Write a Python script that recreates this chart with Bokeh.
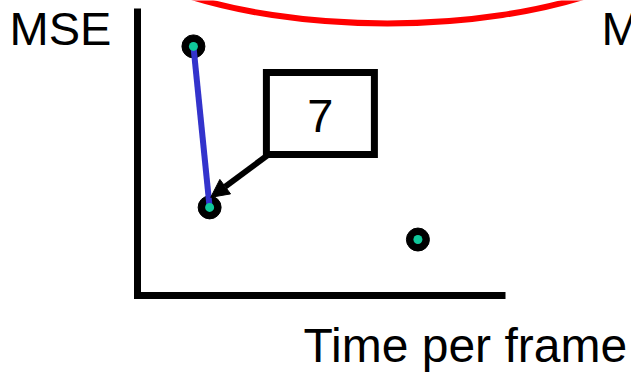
from bokeh.plotting import figure
from bokeh.models import Range1d, Arrow, NormalHead
from bokeh.core.properties import value
from bokeh.embed import file_html
from bokeh.resources import INLINE

# ---- data (arbitrary units: time per frame vs MSE) ----
time_per_frame = [1.52, 1.96, 7.62]
mse = [8.68, 3.07, 1.95]
connected_idx = [0, 1]          # points joined by the blue line
axis_time = [0, 0, 10]          # axis polyline (time)
axis_mse = [10, 0, 0]           # axis polyline (mse)
callout_label = "7"
callout_time = 4.97
callout_mse = 6.34
arrow_from = (3.53, 4.88)
arrow_to = (1.99, 3.42)
highlight_time = [6.79]
highlight_mse = [13.66]
y_label = "MSE"
x_label = "Time per frame"

FONT = value("Liberation Sans")
SX, SY = 36.8, 28.7   # pixels per unit
OX, OY = 137, 295     # origin in pixels

def dx(px):
    return (px - OX) / SX

def dy(py):
    return (OY - py) / SY

p = figure(width=631, height=377, output_backend="svg", toolbar_location=None,
           x_range=Range1d(dx(0), dx(631)), y_range=Range1d(dy(377), dy(0)),
           x_axis_location=None, y_axis_location=None, min_border=0)
p.grid.visible = False
p.outline_line_color = None
p.background_fill_color = "white"

# red highlight ellipse (mostly off the top)
p.ellipse(x=highlight_time, y=highlight_mse, width=625, height=240,
          width_units="screen", height_units="screen",
          fill_color=None, line_color="#ff0000", line_width=6)

# axes
p.line(axis_time, axis_mse, line_color="black", line_width=7, line_join="miter")

# callout arrow
p.add_layout(Arrow(x_start=arrow_from[0], y_start=arrow_from[1],
                   x_end=arrow_to[0], y_end=arrow_to[1],
                   line_width=6, line_color="black",
                   end=NormalHead(size=18, fill_color="black", line_color="black", line_width=1)))

# points
p.scatter(time_per_frame, mse, size=23, fill_color="black", line_color="black")
p.line([time_per_frame[i] for i in connected_idx], [mse[i] for i in connected_idx],
       line_color="#3333cc", line_width=6)
p.scatter(time_per_frame, mse, size=9, fill_color="#10c89a", line_color=None)

# callout box
p.rect(x=[callout_time], y=[callout_mse], width=108, height=82,
       width_units="screen", height_units="screen",
       fill_color="white", line_color="black", line_width=7, line_join="miter")
p.text(x=[callout_time], y=[dy(115)], text=[callout_label],
       text_font=FONT, text_font_size="47px", text_align="center",
       text_baseline="alphabetic", text_color="black")

# labels
p.text(x=[dx(9), dx(601)], y=[dy(28)] * 2,
       text=[y_label, y_label], text_font=FONT, text_font_size="47px",
       text_align="left", text_baseline="alphabetic", text_color="black")
p.text(x=[dx(303)], y=[dy(345)], text=[x_label],
       text_font=FONT, text_font_size="48px", text_align="left",
       text_baseline="alphabetic", text_color="black")

open("out.html", "w").write(file_html(p, INLINE))
